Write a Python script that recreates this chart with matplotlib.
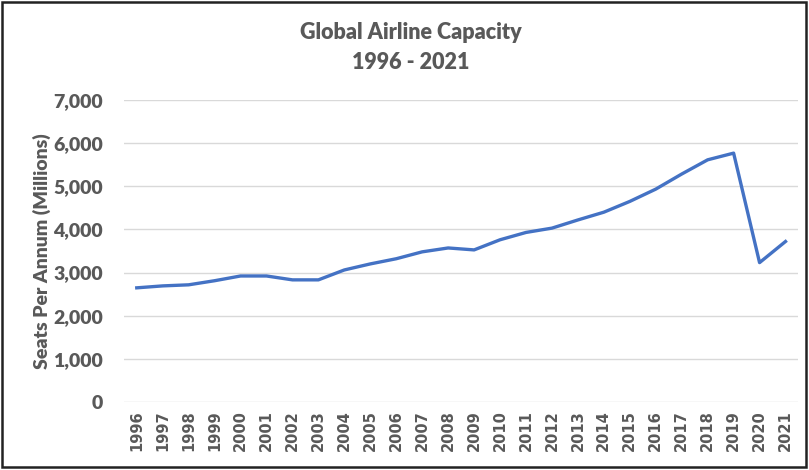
import matplotlib.pyplot as plt
from matplotlib.patches import Rectangle
from matplotlib.ticker import FuncFormatter

years = [str(y) for y in range(1996, 2022)]
seats = [2645, 2690, 2715, 2810, 2920, 2920, 2830, 2830, 3060, 3200,
         3320, 3480, 3570, 3525, 3760, 3930, 4030, 4220, 4400, 4650,
         4935, 5285, 5615, 5770, 3230, 3720]

grey = '#595959'

fig = plt.figure(figsize=(8.09, 4.70), dpi=100)
ax = fig.add_axes([0.153, 0.145, 0.834, 0.642])

x = range(len(years))
ax.plot(x, seats, color='#4472C4', linewidth=2.4, solid_joinstyle='round')

ax.set_xlim(-0.5, len(years) - 0.5)
ax.set_ylim(0, 7000)
ax.set_yticks(range(0, 7001, 1000))
ax.yaxis.set_major_formatter(FuncFormatter(lambda v, p: f'{int(v):,}'))
ax.set_xticks(list(x))
ax.set_xticklabels(years, rotation=90, family='DejaVu Sans',
                   fontweight='bold', fontsize=10.5, color=grey)
for lbl in ax.get_yticklabels():
    lbl.set_family('Lato')
    lbl.set_fontweight('heavy')
    lbl.set_fontsize(14)
    lbl.set_color(grey)

ax.grid(axis='y', color='#D9D9D9', linewidth=1)
ax.set_axisbelow(True)
for s in ax.spines.values():
    s.set_visible(False)
ax.tick_params(length=0)
ax.tick_params(axis='y', pad=15)
ax.tick_params(axis='x', pad=6)

ax.set_ylabel('Seats Per Annum (Millions)', family='Lato', fontweight='heavy',
              fontsize=14, color=grey)
ax.yaxis.set_label_coords(-0.108, 0.5)

fig.text(0.508, 0.93, 'Global Airline Capacity', ha='center', va='center',
         family='Lato', fontweight='heavy', fontsize=15.5, color=grey)
fig.text(0.508, 0.866, '1996 - 2021', ha='center', va='center',
         family='Lato', fontweight='heavy', fontsize=15.5, color=grey)

# frame round the whole chart
fig.patches.append(Rectangle((0.003, 0.006), 0.993, 0.99, transform=fig.transFigure,
                             fill=False, edgecolor='#222222', linewidth=1.8))

fig.savefig('out.png', dpi=100)
